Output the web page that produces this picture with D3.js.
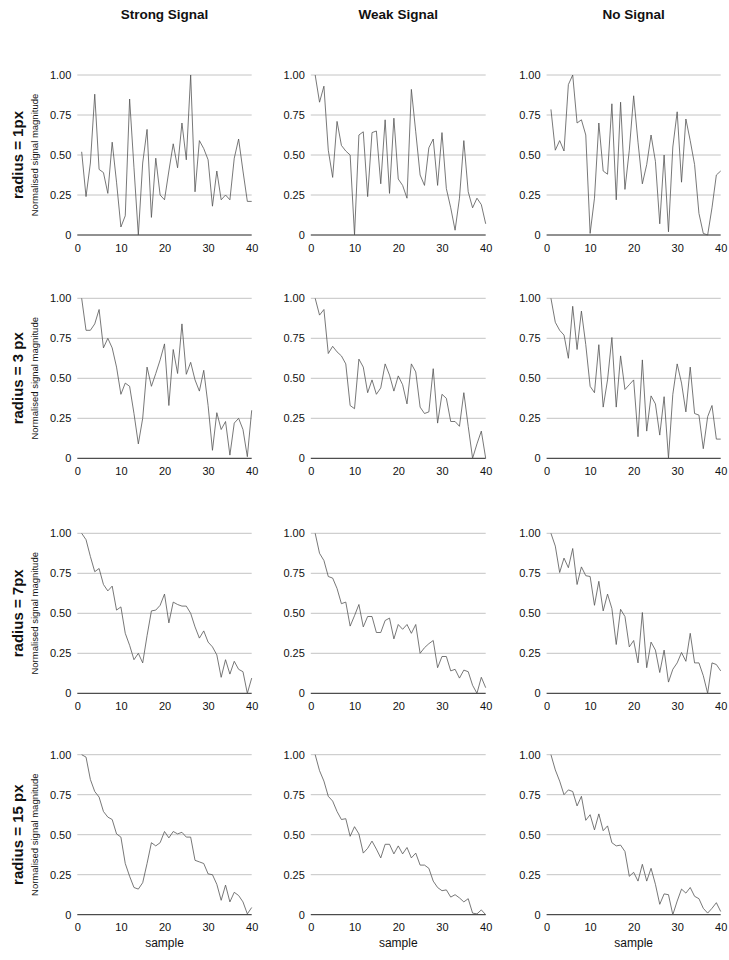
<!DOCTYPE html>
<html><head><meta charset="utf-8">
<script src="https://cdn.jsdelivr.net/npm/d3@7"></script>
<style>body{margin:0;background:#fff}svg{display:block;font-family:"Liberation Sans",Arial,Helvetica,sans-serif}</style>
</head><body>
<script>
const columns = ["Strong Signal", "Weak Signal", "No Signal"];
const rowLabels = ["radius = 1px", "radius = 3 px", "radius = 7px", "radius = 15 px"];
const yTicks = [0, 0.25, 0.5, 0.75, 1];
const yTickLabels = ["0", "0.25", "0.50", "0.75", "1.00"];
const xTicks = [0, 10, 20, 30, 40];
const xLabel = "sample";
const yLabel = "Normalised signal magnitude";

// r = 1px
const strong1 = [0.52,0.24,0.45,0.88,0.41,0.39,0.26,0.58,0.33,0.05,0.12,0.85,0.42,0.0,0.45,0.66,0.11,0.48,0.25,0.22,0.40,0.57,0.42,0.70,0.47,1.0,0.27,0.59,0.54,0.47,0.18,0.40,0.22,0.25,0.22,0.48,0.60,0.40,0.21,0.21];
const weak1 = [1.0,0.83,0.93,0.53,0.36,0.71,0.56,0.525,0.50,0.0,0.625,0.645,0.24,0.64,0.65,0.32,0.72,0.26,0.73,0.35,0.31,0.23,0.91,0.645,0.375,0.31,0.545,0.60,0.31,0.64,0.29,0.17,0.03,0.23,0.59,0.27,0.17,0.23,0.19,0.07];
const none1 = [0.785,0.53,0.59,0.525,0.94,1.0,0.70,0.72,0.625,0.01,0.23,0.70,0.40,0.38,0.82,0.22,0.83,0.285,0.53,0.87,0.58,0.32,0.44,0.625,0.46,0.07,0.50,0.02,0.55,0.77,0.33,0.725,0.59,0.44,0.135,0.01,0.0,0.17,0.375,0.40];
// r = 3px
const strong3 = [1.0,0.80,0.80,0.84,0.93,0.69,0.75,0.69,0.57,0.40,0.47,0.45,0.28,0.09,0.25,0.57,0.45,0.53,0.615,0.715,0.33,0.68,0.53,0.84,0.525,0.60,0.49,0.42,0.55,0.33,0.05,0.285,0.18,0.23,0.02,0.22,0.25,0.18,0.01,0.30];
const weak3 = [1.0,0.895,0.93,0.655,0.70,0.665,0.64,0.59,0.33,0.31,0.62,0.57,0.41,0.49,0.40,0.44,0.59,0.52,0.42,0.515,0.46,0.34,0.59,0.54,0.32,0.28,0.29,0.56,0.22,0.40,0.375,0.23,0.23,0.20,0.41,0.20,0.0,0.09,0.17,0.0];
const none3 = [1.0,0.85,0.80,0.77,0.625,0.95,0.68,0.92,0.71,0.45,0.41,0.71,0.32,0.49,0.755,0.32,0.64,0.43,0.46,0.49,0.135,0.615,0.17,0.39,0.34,0.145,0.385,0.0,0.40,0.59,0.47,0.29,0.57,0.28,0.27,0.06,0.26,0.33,0.12,0.12];
// r = 7px
const strong7 = [1.0,0.96,0.855,0.76,0.78,0.68,0.64,0.67,0.52,0.54,0.375,0.30,0.21,0.25,0.19,0.36,0.515,0.52,0.55,0.62,0.44,0.57,0.555,0.545,0.545,0.50,0.415,0.345,0.39,0.32,0.29,0.24,0.10,0.21,0.12,0.20,0.15,0.135,0.0,0.095];
const weak7 = [1.0,0.875,0.83,0.73,0.72,0.655,0.56,0.57,0.42,0.485,0.555,0.415,0.48,0.48,0.38,0.38,0.455,0.47,0.34,0.43,0.40,0.43,0.375,0.43,0.25,0.285,0.31,0.33,0.16,0.23,0.23,0.14,0.15,0.095,0.145,0.135,0.05,0.0,0.10,0.035];
const none7 = [1.0,0.92,0.755,0.845,0.785,0.905,0.68,0.79,0.735,0.73,0.55,0.70,0.515,0.62,0.53,0.305,0.525,0.48,0.29,0.33,0.19,0.505,0.16,0.32,0.27,0.13,0.27,0.07,0.15,0.19,0.255,0.20,0.375,0.19,0.19,0.11,0.0,0.19,0.18,0.14];
// r = 15px
const strong15 = [1.0,0.985,0.845,0.77,0.735,0.645,0.61,0.595,0.505,0.485,0.32,0.24,0.17,0.16,0.20,0.32,0.45,0.43,0.45,0.52,0.48,0.52,0.505,0.515,0.485,0.485,0.34,0.33,0.32,0.255,0.25,0.19,0.09,0.185,0.08,0.14,0.12,0.08,0.005,0.045];
const weak15 = [1.0,0.90,0.835,0.74,0.71,0.645,0.595,0.60,0.49,0.55,0.505,0.385,0.415,0.46,0.41,0.355,0.44,0.44,0.38,0.43,0.38,0.42,0.355,0.385,0.31,0.31,0.29,0.21,0.17,0.15,0.155,0.11,0.125,0.105,0.08,0.10,0.01,0.005,0.03,0.0];
const none15 = [1.0,0.905,0.835,0.75,0.78,0.77,0.68,0.74,0.59,0.625,0.53,0.63,0.525,0.555,0.45,0.43,0.435,0.395,0.24,0.265,0.21,0.315,0.21,0.29,0.19,0.065,0.13,0.125,0.0,0.085,0.16,0.135,0.17,0.115,0.10,0.04,0.01,0.04,0.075,0.02];

const grid = [
  [strong1, weak1, none1],
  [strong3, weak3, none3],
  [strong7, weak7, none7],
  [strong15, weak15, none15]
];

const W = 729, H = 960;
const colX = [[77.3, 251.7], [310.8, 485.7], [546.6, 720.7]];
const rowY = [[235, 75], [458.3, 298.3], [693.3, 533.3], [914.7, 754.7]];

const svg = d3.select("body").append("svg").attr("width", W).attr("height", H);

columns.forEach((c, ci) => {
  const cx = (colX[ci][0] + colX[ci][1]) / 2;
  svg.append("text").attr("x", cx).attr("y", 19).attr("text-anchor", "middle")
    .attr("font-weight", "bold").attr("font-size", 13.5).attr("fill", "#111").text(c);
  svg.append("text").attr("x", cx).attr("y", 947).attr("text-anchor", "middle")
    .attr("font-size", 12).attr("fill", "#111").text(xLabel);
});

rowLabels.forEach((r, ri) => {
  const cy = (rowY[ri][0] + rowY[ri][1]) / 2;
  svg.append("text").attr("transform", `translate(23,${cy}) rotate(-90)`).attr("text-anchor", "middle")
    .attr("font-weight", "bold").attr("font-size", 15).attr("fill", "#111").text(r);
  svg.append("text").attr("transform", `translate(38,${cy}) rotate(-90)`).attr("text-anchor", "middle")
    .attr("font-size", 9.5).attr("fill", "#111").text(yLabel);
});

grid.forEach((row, ri) => {
  row.forEach((vals, ci) => {
    const x = d3.scaleLinear().domain([0, 40]).range(colX[ci]);
    const y = d3.scaleLinear().domain([0, 1]).range(rowY[ri]);
    const g = svg.append("g");
    // gridlines
    g.selectAll("line.grid").data(yTicks.filter(t => t > 0)).join("line")
      .attr("x1", x(0)).attr("x2", x(40)).attr("y1", d => y(d)).attr("y2", d => y(d))
      .attr("stroke", "#c4c4c4").attr("stroke-width", 1);
    // baseline
    g.append("line").attr("x1", x(0)).attr("x2", x(40)).attr("y1", y(0)).attr("y2", y(0))
      .attr("stroke", "#222").attr("stroke-width", 1);
    // y tick labels
    const ya = d3.axisLeft(y).tickValues(yTicks).tickSize(0).tickPadding(6)
      .tickFormat((d, i) => yTickLabels[i]);
    const yg = g.append("g").attr("transform", `translate(${x(0)},0)`).call(ya);
    yg.select(".domain").remove();
    yg.selectAll("text").attr("font-size", 11).attr("fill", "#111").attr("font-family", "Liberation Sans, Arial, sans-serif");
    // x tick labels
    const xa = d3.axisBottom(x).tickValues(xTicks).tickSize(0).tickPadding(9);
    const xg = g.append("g").attr("transform", `translate(0,${y(0)})`).call(xa);
    xg.select(".domain").remove();
    xg.selectAll("text").attr("font-size", 11).attr("fill", "#111").attr("font-family", "Liberation Sans, Arial, sans-serif");
    // line
    const line = d3.line().x((d, i) => x(i + 1)).y(d => y(d));
    g.append("path").datum(vals).attr("d", line).attr("fill", "none")
      .attr("stroke", "#555").attr("stroke-width", 0.8).attr("stroke-linejoin", "miter");
  });
});
</script>
</body></html>
